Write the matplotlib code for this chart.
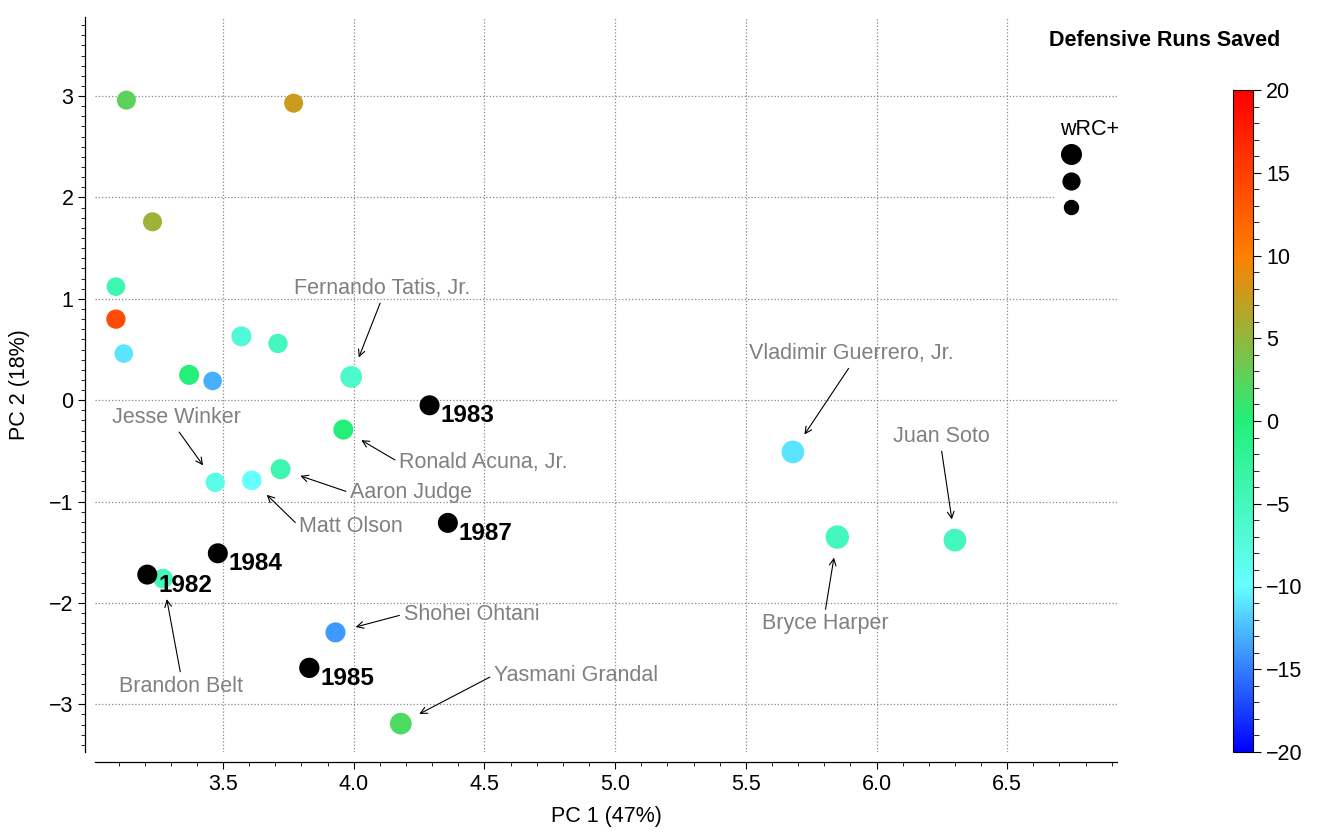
import numpy as np
import matplotlib
matplotlib.use('Agg')
import matplotlib.pyplot as plt
from matplotlib.colors import LinearSegmentedColormap, Normalize
from matplotlib.lines import Line2D
from matplotlib.ticker import MultipleLocator, FormatStrFormatter

plt.rcParams['font.family'] = ['Liberation Sans', 'DejaVu Sans']

# players: PC scores, DRS (colour), wRC+ (size)
pc1 = [3.13, 3.77, 3.23, 3.09, 3.09, 3.12, 3.37, 3.46, 3.57, 3.71, 3.99,
       3.96, 3.72, 3.47, 3.61, 3.27, 3.93, 4.18, 5.68, 5.85, 6.30]
pc2 = [2.96, 2.93, 1.76, 1.12, 0.80, 0.46, 0.25, 0.19, 0.63, 0.56, 0.23,
       -0.29, -0.68, -0.81, -0.79, -1.76, -2.29, -3.19, -0.51, -1.35, -1.38]
drs = [2.5, 7.5, 5.5, -4, 14, -11, 0, -13, -7, -5, -6,
       0, -4, -8, -10, -5, -14, 2, -11, -5, -5]
wrc = [136, 136, 136, 133, 138, 133, 143, 133, 143, 138, 155,
       143, 143, 138, 140, 140, 143, 155, 162, 167, 162]
names = ['', '', '', '', '', '', '', '', '', '', 'Fernando Tatis, Jr.',
         'Ronald Acuna, Jr.', 'Aaron Judge', 'Jesse Winker', 'Matt Olson',
         'Brandon Belt', 'Shohei Ohtani', 'Yasmani Grandal',
         'Vladimir Guerrero, Jr.', 'Bryce Harper', 'Juan Soto']

# past seasons (black)
years = ['1982', '1983', '1984', '1985', '1987']
year_pc1 = [3.21, 4.29, 3.48, 3.83, 4.36]
year_pc2 = [-1.72, -0.05, -1.51, -2.64, -1.21]
year_wrc = [143, 143, 143, 145, 143]

legend_wrc = [140, 120, 100]

# label placement: offset (pt), ha, va
label_pos = {
    'Fernando Tatis, Jr.': (22, 56, 'center', 'bottom'),
    'Vladimir Guerrero, Jr.': (42, 63, 'center', 'bottom'),
    'Juan Soto': (-10, 67, 'center', 'bottom'),
    'Bryce Harper': (-9, -55, 'center', 'top'),
    'Brandon Belt': (13, -70, 'center', 'top'),
    'Jesse Winker': (-28, 39, 'center', 'bottom'),
    'Aaron Judge': (50, -17, 'left', 'center'),
    'Matt Olson': (34, -33, 'left', 'center'),
    'Ronald Acuna, Jr.': (40, -23.5, 'left', 'center'),
    'Shohei Ohtani': (49, 13, 'left', 'center'),
    'Yasmani Grandal': (67, 35, 'left', 'center'),
}
relpos = {('center', 'bottom'): (0.5, 0), ('center', 'top'): (0.5, 1),
          ('left', 'center'): (0, 0.5)}


def msize(w):
    # marker diameter in points from wRC+
    return 0.14 * w * 0.72


cmap = LinearSegmentedColormap.from_list(
    'drs', [(0, '#0000ff'), (0.25, '#66ffff'), (0.5, '#22f07a'),
            (0.75, '#ff8000'), (1, '#ff0000')])
norm = Normalize(-20, 20)

fig = plt.figure(figsize=(13.19, 8.36), dpi=100)
ax = fig.add_axes([95 / 1319, 1 - 752 / 836, 1022 / 1319, 735 / 836])

sc = ax.scatter(pc1, pc2, c=drs, cmap=cmap, norm=norm,
                s=[msize(w) ** 2 for w in wrc], linewidths=0, zorder=3)
ax.scatter(year_pc1, year_pc2, c='black',
           s=[msize(w) ** 2 for w in year_wrc], linewidths=0, zorder=4)

for yr, x, y in zip(years, year_pc1, year_pc2):
    ax.annotate(yr, (x, y), xytext=(8, -7.5), textcoords='offset points',
                ha='left', va='center', fontsize=17.5, fontweight='bold',
                zorder=5)

for nm, x, y in zip(names, pc1, pc2):
    if not nm:
        continue
    dx, dy, ha, va = label_pos[nm]
    ax.annotate(nm, (x, y), xytext=(dx, dy), textcoords='offset points',
                ha=ha, va=va, fontsize=15.5, color='#808080',
                arrowprops=dict(arrowstyle='->', color='black', lw=0.8,
                                shrinkA=1, shrinkB=15, mutation_scale=12,
                                relpos=relpos[(ha, va)]))

ax.set_xlim(3.01, 6.92)
ax.set_ylim(-3.47, 3.78)
ax.xaxis.set_major_locator(MultipleLocator(0.5))
ax.xaxis.set_major_formatter(FormatStrFormatter('%.1f'))
ax.xaxis.set_minor_locator(MultipleLocator(0.1))
ax.yaxis.set_major_locator(MultipleLocator(1))
ax.yaxis.set_minor_locator(MultipleLocator(0.1))
ax.tick_params(which='major', length=5, width=0.8, labelsize=15.5)
ax.tick_params(which='minor', length=3, width=0.6)
ax.grid(True, which='major', ls=':', color='#888888', lw=0.9)
ax.set_axisbelow(True)
for s in ['top', 'right']:
    ax.spines[s].set_visible(False)
for s in ['left', 'bottom']:
    ax.spines[s].set_position(('outward', 7))
    ax.spines[s].set_linewidth(0.9)
ax.set_xlabel('PC 1 (47%)', fontsize=15.5, labelpad=8)
ax.set_ylabel('PC 2 (18%)', fontsize=15.5, labelpad=14)

# wRC+ size key
handles = [Line2D([], [], marker='o', ls='', color='black', markersize=msize(w))
           for w in legend_wrc]
leg = ax.legend(handles, [''] * 3, title='wRC+', title_fontsize=15.5,
                loc='upper left', bbox_to_anchor=(0.939, 0.869), frameon=True,
                edgecolor='none', facecolor='white', framealpha=1,
                handletextpad=0, handlelength=1.6, handleheight=1.72,
                labelspacing=0.54, borderaxespad=0, alignment='left',
                fontsize=10)

cax = fig.add_axes([1233 / 1319, 1 - 752 / 836, 20 / 1319, 662 / 836])
cb = fig.colorbar(sc, cax=cax, ticks=range(-20, 21, 5))
cb.minorticks_on()
cb.ax.yaxis.set_minor_locator(MultipleLocator(1))
cb.ax.tick_params(which='major', length=6, width=0.8, labelsize=15.5)
cb.ax.tick_params(which='minor', length=4, width=0.6)
cb.outline.set_linewidth(0.8)

fig.text(1164.5 / 1319, 1 - 40 / 836, 'Defensive Runs Saved', ha='center',
         va='center', fontsize=15.5, fontweight='bold')

fig.savefig('out.png', dpi=100)
